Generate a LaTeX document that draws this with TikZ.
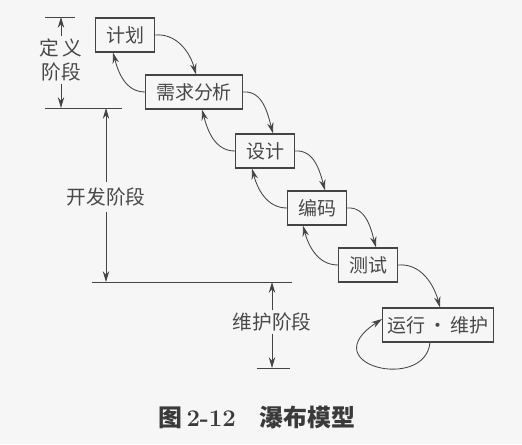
\documentclass[tikz,border=0pt]{standalone}
\usepackage{fontspec}
\newfontfamily\cjk{Noto Sans CJK SC}
\usetikzlibrary{arrows.meta}
\definecolor{scanbg}{RGB}{246,246,246}
\definecolor{scanink}{RGB}{68,68,68}
\definecolor{scantext}{RGB}{72,72,72}
\begin{document}
\begin{tikzpicture}[x=0.25mm, y=-0.25mm,
  phasebox/.style={draw=scanink, line width=0.8pt, text=scantext,
    font=\cjk\fontsize{13.5pt}{16pt}\selectfont,
    inner xsep=2.6mm, inner ysep=1pt, minimum height=8.5mm},
  stagelabel/.style={text=scantext, align=center, inner sep=1.5pt,
    font=\cjk\fontsize{14pt}{17.5pt}\selectfont},
  arr/.style={-{Stealth[length=2.7mm, width=1.6mm]}, line width=0.6pt, draw=scanink},
  rule/.style={line width=0.7pt, draw=scanink}]
\fill[scanbg] (0,0) rectangle (522,444);
\useasboundingbox (0,0) rectangle (522,444);
% Nodes
\node[phasebox] (plan)   at (125,35)  {计划};
\node[phasebox] (req)    at (194,92)  {需求分析};
\node[phasebox] (design) at (265,151) {设计};
\node[phasebox] (code)   at (317,208) {编码};
\node[phasebox] (test)   at (368,265) {测试};
\node[phasebox, inner xsep=1.2mm] (run) at (438,325) {运行\,·\,维护};
% Forward arrows
\draw[arr] (plan.east)   to[out=5, in=105] ([xshift=0.5mm]req.north);
\draw[arr] (req.east)    to[out=5, in=105] ([xshift=2mm]design.north);
\draw[arr] (design.east) to[out=5, in=105] ([xshift=2mm]code.north);
\draw[arr] (code.east)   to[out=5, in=105] ([xshift=2mm]test.north);
\draw[arr] (test.east)   to[out=5, in=105] ([xshift=0.5mm]run.north);
% Back arrows
\draw[arr] (req.west)    to[out=180, in=-75] ([xshift=-3mm]plan.south);
\draw[arr] (design.west) to[out=180, in=-75] ([xshift=2mm]req.south);
\draw[arr] (code.west)   to[out=180, in=-75] ([xshift=-3.25mm]design.south);
\draw[arr] (test.west)   to[out=180, in=-75] ([xshift=-3.5mm]code.south);
% Self loop
\draw[arr] ([xshift=-2mm]run.south) .. controls (425,392) and (312,365) .. ([yshift=1.5mm]run.west);
% Stage rules
\coordinate (defTopL) at (45,17);
\coordinate (defTopR) at (75,17);
\coordinate (defBotL) at (45,108);
\coordinate (defBotR) at (122,108);
\coordinate (devBotL) at (92,282);
\coordinate (devBotR) at (292,282);
\coordinate (mntBotL) at (257,368);
\coordinate (mntBotR) at (290,368);
\draw[rule] (defTopL) -- (defTopR);
\draw[rule] (defBotL) -- (defBotR);
\draw[rule] (devBotL) -- (devBotR);
\draw[rule] (mntBotL) -- (mntBotR);
% Stage labels
\node[stagelabel] (def) at (61,60)   {定\,义\\阶段};
\node[stagelabel, inner sep=4pt] (dev) at (106,197) {开发阶段};
\node[stagelabel] (mnt) at (272,322) {维护阶段};
\draw[arr] (def.north) -- (def.north |- defTopL);
\draw[arr] (def.south) -- (def.south |- defBotL);
\draw[arr] (dev.north) -- (dev.north |- defBotL);
\draw[arr] (dev.south) -- (dev.south |- devBotL);
\draw[arr] (mnt.north) -- (mnt.north |- devBotL);
\draw[arr] (mnt.south) -- (mnt.south |- mntBotL);
% Caption
\node[text=scantext!80!black, font=\fontsize{17pt}{20pt}\selectfont\bfseries] (caption) at (257,417)
  {{\cjk 图}\,2-12\quad{\cjk 瀑布模型}};
\end{tikzpicture}
\end{document}
